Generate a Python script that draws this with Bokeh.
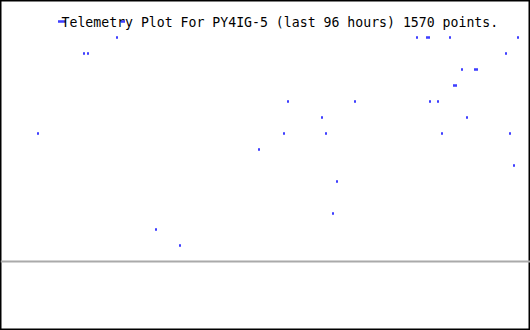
from bokeh.plotting import figure
from bokeh.models import Range1d, Span, Label, ColumnDataSource
from bokeh.embed import file_html
from bokeh.resources import INLINE

# Telemetry samples: time slot (x) and quantized telemetry level (y)
time_slot = [58, 60, 62, 64, 121, 123,
             116, 416, 426, 428, 449, 517,
             83, 87, 505,
             461, 474, 476,
             453, 455,
             287, 354, 429, 437,
             321, 466,
             37, 283, 325, 441, 509,
             258,
             513,
             336,
             332,
             155,
             179]
level = [15, 15, 15, 15, 15, 15,
         14, 14, 14, 14, 14, 14,
         13, 13, 13,
         12, 12, 12,
         11, 11,
         10, 10, 10, 10,
         9, 9,
         8, 8, 8, 8, 8,
         7,
         6,
         5,
         3,
         2,
         1]
baseline_level = 0
title_text = "Telemetry Plot For PY4IG-5 (last 96 hours) 1570 points."

W, H = 530, 330
p = figure(width=W, height=H, output_backend="svg", toolbar_location=None,
           x_range=Range1d(0, 530), y_range=Range1d(-69 / 16, 261 / 16),
           min_border=0, min_border_left=0, min_border_right=0,
           min_border_top=0, min_border_bottom=0)
p.axis.visible = False
p.grid.visible = False
p.background_fill_color = "white"
p.border_fill_color = "white"
p.outline_line_color = "black"
p.outline_line_width = 2

p.add_layout(Span(location=baseline_level, dimension="width",
                  line_color="#aaaaaa", line_width=2))

src = ColumnDataSource(dict(x=[t + 0.5 for t in time_slot], y=level))
p.rect(x="x", y="y", width=1, height=2 / 16, dilate=True, source=src,
       fill_color="#0000ff", line_color="#0000ff", line_width=0.5)

p.add_layout(Label(x=61, y=H - 22, x_units="screen", y_units="screen",
                   text=title_text, text_font="DejaVu Sans Mono",
                   text_font_size="13.2px", text_color="black",
                   text_baseline="alphabetic"))

open("out.html", "w").write(file_html(p, INLINE))
